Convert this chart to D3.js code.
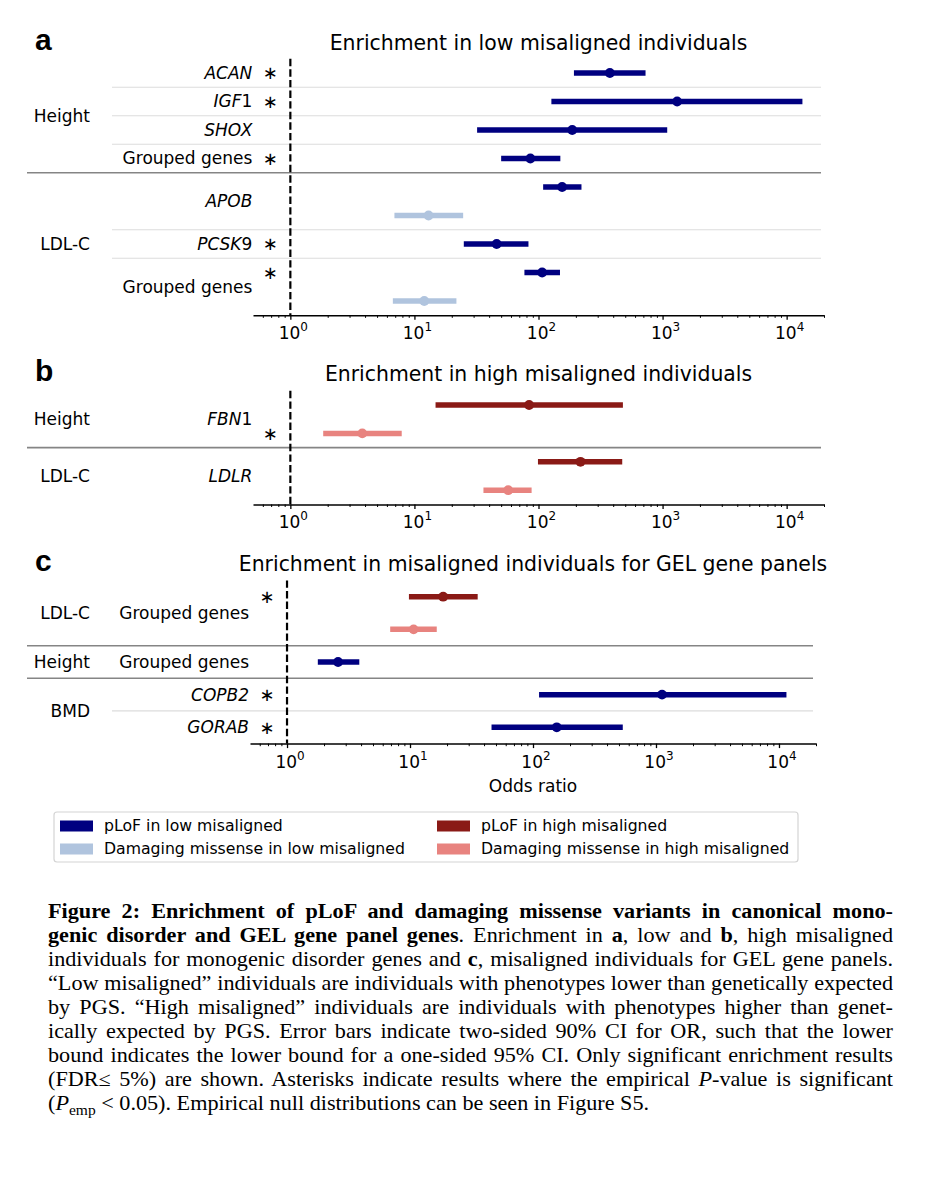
<!DOCTYPE html>
<html>
<head>
<meta charset="utf-8">
<script src="https://cdn.jsdelivr.net/npm/d3@7"></script>
<style>
body { margin: 0; background: #fff; }
svg text { font-family: "DejaVu Sans", sans-serif; fill: #000; }
</style>
</head>
<body>
<div id="fig"></div>
<script>
// ---- data ----
var xDomain = [0.5, 20000];
var xTicks  = [1, 10, 100, 1000, 10000];

// panel a : low misaligned
var aTrait = ['Height','Height','Height','Height','LDL-C','LDL-C','LDL-C','LDL-C','LDL-C'];
var aGene  = ['ACAN','IGF1','SHOX','Grouped genes','APOB','APOB','PCSK9','Grouped genes','Grouped genes'];
var aType  = ['pLoF_low','pLoF_low','pLoF_low','pLoF_low','pLoF_low','miss_low','pLoF_low','pLoF_low','miss_low'];
var aOR    = [376, 1310, 187, 86, 155, 13, 46, 107, 12];
var aLow   = [193, 127, 32, 50, 109, 6.9, 25, 77, 6.7];
var aHigh  = [729, 13400, 1090, 150, 222, 24.7, 83, 149, 21.8];
var aSig   = [1, 1, 0, 1, 0, 0, 1, 1, 0];

// panel b : high misaligned
var bTrait = ['Height','Height','LDL-C','LDL-C'];
var bGene  = ['FBN1','FBN1','LDLR','LDLR'];
var bType  = ['pLoF_high','miss_high','pLoF_high','miss_high'];
var bOR    = [84, 3.8, 218, 57];
var bLow   = [14.8, 1.84, 99, 36];
var bHigh  = [479, 7.9, 473, 88];
var bSig   = [0, 1, 0, 0];

// panel c : GEL gene panels
var cTrait = ['LDL-C','LDL-C','Height','BMD','BMD'];
var cGene  = ['Grouped genes','Grouped genes','Grouped genes','COPB2','GORAB'];
var cType  = ['pLoF_high','miss_high','pLoF_low','pLoF_low','pLoF_low'];
var cOR    = [18.6, 10.7, 2.6, 1120, 156];
var cLow   = [9.8, 6.9, 1.78, 112, 46];
var cHigh  = [35.5, 16.5, 3.87, 11500, 537];
var cSig   = [1, 0, 0, 1, 1];

var legendKeys   = ['pLoF_low', 'miss_low', 'pLoF_high', 'miss_high'];
var legendLabels = ['pLoF in low misaligned', 'Damaging missense in low misaligned',
                    'pLoF in high misaligned', 'Damaging missense in high misaligned'];

// gene names: [italic part, upright part]
var geneParts = {
	'IGF1': ['IGF', '1'], 'PCSK9': ['PCSK', '9'], 'FBN1': ['FBN', '1'],
	'Grouped genes': ['', 'Grouped genes']
};

var captionLines = [
	[['Figure 2: Enrichment of pLoF and damaging missense variants in canonical mono-', 'b']],
	[['genic disorder and GEL gene panel genes', 'b'], ['. Enrichment in ', ''], ['a', 'b'], [', low and ', ''], ['b', 'b'], [', high misaligned', '']],
	[['individuals for monogenic disorder genes and ', ''], ['c', 'b'], [', misaligned individuals for GEL gene panels.', '']],
	[['\u201cLow misaligned\u201d individuals are individuals with phenotypes lower than genetically expected', '']],
	[['by PGS. \u201cHigh misaligned\u201d individuals are individuals with phenotypes higher than genet-', '']],
	[['ically expected by PGS. Error bars indicate two-sided 90% CI for OR, such that the lower', '']],
	[['bound indicates the lower bound for a one-sided 95% CI. Only significant enrichment results', '']],
	[['(FDR\u2264 5%) are shown. Asterisks indicate results where the empirical ', ''], ['P', 'i'], ['-value is significant', '']],
	[['(', ''], ['P', 'i'], ['emp', 'sub'], [' < 0.05). Empirical null distributions can be seen in Figure S5.', '']]
];

// ---- styles ----
var colors = { pLoF_low: '#000080', miss_low: '#b0c4de', pLoF_high: '#8a1a16', miss_high: '#e8837f' };

var svg = d3.select('#fig').append('svg')
	.attr('width', 927).attr('height', 1200);

//consecutive runs of equal keys
function runs(keys) {
	var out = [];
	keys.forEach(function(k, i) {
		if (i > 0 && out[out.length - 1].key === k) out[out.length - 1].end = i;
		else out.push({ key: k, start: i, end: i });
	});
	return out;
}

function drawPanel(p, trait, gene, type, or, lo, hi, sig) {
	var n = or.length;
	var x = d3.scaleLog().domain(xDomain).range([p.x0, p.x1]);
	var y = d3.scaleLinear().domain([-0.5, n - 0.5]).range([p.top, p.bottom]);
	var g = svg.append('g');
	var x1 = x(1);

	//row separators
	d3.range(1, n).forEach(function(i) {
		var yy = (y(i) + y(i - 1)) / 2;
		if (trait[i] !== trait[i - 1])
			g.append('line').attr('x1', 27).attr('x2', p.x1 - 3).attr('y1', yy).attr('y2', yy)
				.style('stroke', '#858585').style('stroke-width', 1.6);
		else if (gene[i] !== gene[i - 1])
			g.append('line').attr('x1', 112).attr('x2', p.x1 - 3).attr('y1', yy).attr('y2', yy)
				.style('stroke', '#dcdcdc').style('stroke-width', 1.2);
	});

	//reference line at OR = 1
	g.append('line').attr('x1', x1).attr('x2', x1).attr('y1', p.top).attr('y2', p.bottom)
		.style('stroke', '#000').style('stroke-width', 2.2).style('stroke-dasharray', '7.4,3.2');

	var idx = d3.range(n);
	g.selectAll('.bar').data(idx).enter().append('line')
		.attr('x1', function(i) { return x(lo[i]); })
		.attr('x2', function(i) { return x(hi[i]); })
		.attr('y1', function(i) { return y(i); })
		.attr('y2', function(i) { return y(i); })
		.style('stroke', function(i) { return colors[type[i]]; })
		.style('stroke-width', 5.5);
	g.selectAll('.dot').data(idx).enter().append('circle')
		.attr('cx', function(i) { return x(or[i]); })
		.attr('cy', function(i) { return y(i); })
		.attr('r', 4.9)
		.style('fill', function(i) { return colors[type[i]]; });

	//gene labels
	runs(idx.map(function(i) { return trait[i] + '|' + gene[i]; })).forEach(function(r) {
		var name = gene[r.start];
		var parts = geneParts[name] || [name, ''];
		var t = g.append('text').attr('x', x1 - 38).attr('y', y((r.start + r.end) / 2))
			.attr('dy', '0.35em').attr('text-anchor', 'end').attr('font-size', '17px');
		if (parts[0]) t.append('tspan').style('font-style', 'italic').text(parts[0]);
		if (parts[1]) t.append('tspan').text(parts[1]);
	});

	//trait labels
	runs(trait).forEach(function(r) {
		g.append('text').attr('x', 90).attr('y', y((r.start + r.end) / 2))
			.attr('dy', '0.35em').attr('text-anchor', 'end').attr('font-size', '17px')
			.text(r.key);
	});

	//asterisks
	g.selectAll('.ast').data(idx.filter(function(i) { return sig[i]; })).enter().append('text')
		.attr('x', x1 - 20).attr('y', function(i) { return y(i); })
		.attr('dy', '0.36em').attr('text-anchor', 'middle').attr('font-size', '18px')
		.text('\u2217');

	//x axis
	var minor = [];
	xTicks.concat([0.1]).forEach(function(d) {
		for (var k = 2; k < 10; k++) {
			var v = d * k;
			if (v > xDomain[0] && v <= xDomain[1] && xTicks.indexOf(v) < 0) minor.push(v);
		}
	});
	var ax = g.append('g').attr('transform', 'translate(0,' + p.bottom + ')')
		.call(d3.axisBottom(x).tickValues(xTicks).tickSize(4.5).tickSizeOuter(0).tickFormat(''));
	ax.select('.domain').style('stroke-width', 1.5);
	ax.selectAll('.tick line').style('stroke-width', 1.3);
	var axm = g.append('g').attr('transform', 'translate(0,' + p.bottom + ')')
		.call(d3.axisBottom(x).tickValues(minor).tickSize(2.6).tickSizeOuter(0).tickFormat(''));
	axm.select('.domain').remove();
	axm.selectAll('.tick line').style('stroke-width', 1);

	xTicks.forEach(function(v) {
		var t = g.append('text').attr('x', x(v) + 3).attr('y', p.bottom + 24)
			.attr('text-anchor', 'middle').attr('font-size', '17px');
		t.append('tspan').text('10');
		t.append('tspan').attr('dy', -8).attr('font-size', '12px').text(Math.round(Math.log10(v)));
	});

	//title and panel letter
	g.append('text').attr('x', (p.x0 + p.x1) / 2).attr('y', p.titleY)
		.attr('text-anchor', 'middle').attr('font-size', '20.4px').text(p.title);
	g.append('text').attr('x', 35).attr('y', p.titleY)
		.style('font-family', '"Liberation Sans", Arial, sans-serif')
		.style('font-weight', 'bold').attr('font-size', '30px').text(p.letter);

	if (p.xlabel)
		g.append('text').attr('x', (p.x0 + p.x1) / 2).attr('y', p.bottom + 48)
			.attr('text-anchor', 'middle').attr('font-size', '17px').text(p.xlabel);
}

drawPanel({ x0: 253, x1: 824, top: 58.75, bottom: 315.25, titleY: 50, letter: 'a',
		title: 'Enrichment in low misaligned individuals' },
	aTrait, aGene, aType, aOR, aLow, aHigh, aSig);
drawPanel({ x0: 253, x1: 824, top: 390.8, bottom: 504.4, titleY: 381, letter: 'b',
		title: 'Enrichment in high misaligned individuals' },
	bTrait, bGene, bType, bOR, bLow, bHigh, bSig);
drawPanel({ x0: 250, x1: 816, top: 580.4, bottom: 743.6, titleY: 571, letter: 'c',
		title: 'Enrichment in misaligned individuals for GEL gene panels', xlabel: 'Odds ratio' },
	cTrait, cGene, cType, cOR, cLow, cHigh, cSig);

//legend
var lg = svg.append('g');
lg.append('rect').attr('x', 54).attr('y', 812).attr('width', 744).attr('height', 50)
	.attr('rx', 3).style('fill', '#fff').style('stroke', '#d4d4d4').style('stroke-width', 1.2);
legendKeys.forEach(function(k, i) {
	var lx = i < 2 ? 60 : 437, ly = i % 2 === 0 ? 826 : 849;
	lg.append('rect').attr('x', lx).attr('y', ly - 5.5).attr('width', 33).attr('height', 11)
		.style('fill', colors[k]);
	lg.append('text').attr('x', lx + 44).attr('y', ly).attr('dy', '0.35em')
		.attr('font-size', '15.7px').text(legendLabels[i]);
});

//caption, justified line by line (Times stretched a little to get closer to CM widths)
var capX = 48, capW = 845, capScale = 1.11;
var cap = svg.append('g')
	.attr('transform', 'translate(' + capX + ',0) scale(' + capScale + ',1)');
captionLines.forEach(function(line, li) {
	var t = cap.append('text').attr('x', 0).attr('y', 918 + li * 24)
		.style('font-family', '"Liberation Serif", "DejaVu Serif", serif').attr('font-size', '20px');
	var shift = 0;
	line.forEach(function(seg) {
		var s = t.append('tspan').text(seg[0]);
		if (seg[1] === 'b') s.style('font-weight', 'bold');
		if (seg[1] === 'i') s.style('font-style', 'italic');
		if (seg[1] === 'sub') { s.attr('dy', 5).attr('font-size', '14px'); shift = 5; }
		else if (shift) { s.attr('dy', -shift); shift = 0; }
	});
	if (li < captionLines.length - 1) {
		var nat = t.node().getComputedTextLength();
		var spaces = line.map(function(s) { return s[0]; }).join('').split(' ').length - 1;
		t.attr('word-spacing', (capW / capScale - nat) / spaces);
	}
});
</script>
</body>
</html>
